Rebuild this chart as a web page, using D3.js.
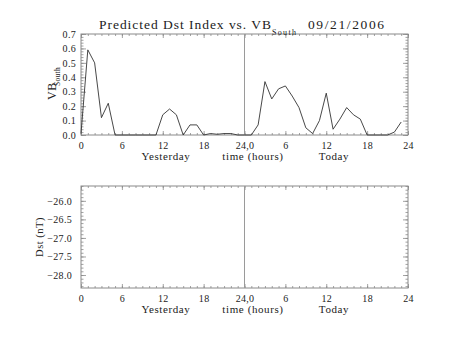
<!DOCTYPE html>
<html><head><meta charset="utf-8">
<script src="https://cdn.jsdelivr.net/npm/d3@7"></script>
<style>
body{margin:0;background:#fff;}
svg{display:block;}
text{font-family:"Liberation Serif","Times New Roman",serif;fill:#222;}
</style></head>
<body>
<svg id="c" width="453" height="340"></svg>
<script>
// ---- data ----
const hours = [0,1,2,3,4,5,6,7,8,9,10,11,12,13,14,15,16,17,18,19,20,21,22,23,
               24,25,26,27,28,29,30,31,32,33,34,35,36,37,38,39,40,41,42,43,44,45,46,47];
const vbSouth = [0.01,0.59,0.50,0.12,0.22,0.00,0.00,0.00,0.00,0.00,0.00,0.00,
                 0.14,0.18,0.14,0.00,0.07,0.07,0.00,0.01,0.005,0.01,0.01,0.00,
                 0.00,0.00,0.07,0.37,0.25,0.32,0.34,0.27,0.19,0.05,0.01,0.10,
                 0.29,0.04,0.11,0.19,0.14,0.11,0.00,0.00,0.00,0.00,0.02,0.09];
const xTickValues = [0,6,12,18,24,30,36,42,48];
const xTickLabels = ["0","6","12","18","24,0","6","12","18","24"];
const vbTicks = [0.0,0.1,0.2,0.3,0.4,0.5,0.6,0.7];
const dstTicks = [-26.0,-26.5,-27.0,-27.5,-28.0];
const titleMain = "Predicted Dst Index vs. VB";
const titleSub = "South";
const titleDate = "09/21/2006";
const dayLabels = ["Yesterday","time (hours)","Today"];

// ---- layout ----
const svg = d3.select("#c");
const L = 81, R = 408;
const frameColor = "#8a8a8a";
const FONT = "Liberation Serif";
const x = d3.scaleLinear().domain([0,48]).range([L,R]);
const yTop = d3.scaleLinear().domain([0,0.7]).range([135,34]);
const yBot = d3.scaleLinear().domain([-28.35,-25.6]).range([288,186]);

function frame(y, top, bottom, yMajor, yMinor, fmt, labelPad){
  const g = svg.append("g");
  g.append("g").attr("transform",`translate(${L},0)`)
    .call(d3.axisLeft(y).tickValues(yMajor).tickSize(-5).tickPadding(labelPad).tickFormat(fmt));
  g.append("g").attr("transform",`translate(${L},0)`)
    .call(d3.axisLeft(y).tickValues(yMinor).tickSize(-2.5).tickFormat(""));
  g.append("g").attr("transform",`translate(${R},0)`)
    .call(d3.axisRight(y).tickValues(yMajor).tickSize(-5).tickFormat(""));
  g.append("g").attr("transform",`translate(${R},0)`)
    .call(d3.axisRight(y).tickValues(yMinor).tickSize(-2.5).tickFormat(""));
  g.append("g").attr("transform",`translate(0,${bottom})`)
    .call(d3.axisBottom(x).tickValues(xTickValues).tickSize(-4).tickPadding(7)
      .tickFormat((d,i)=>xTickLabels[i]));
  g.append("g").attr("transform",`translate(0,${bottom})`)
    .call(d3.axisBottom(x).tickValues(d3.range(0,49,1)).tickSize(-2).tickFormat(""));
  g.append("g").attr("transform",`translate(0,${top})`)
    .call(d3.axisTop(x).tickValues(xTickValues).tickSize(-4).tickFormat(""));
  g.append("g").attr("transform",`translate(0,${top})`)
    .call(d3.axisTop(x).tickValues(d3.range(0,49,1)).tickSize(-2).tickFormat(""));
  g.selectAll(".domain").remove();
  g.selectAll(".tick line").attr("stroke",frameColor).attr("stroke-width",0.8);
  g.selectAll(".tick text").attr("font-family",FONT).attr("font-size",10)
    .attr("letter-spacing",0.3).attr("fill","#222");
  g.append("rect").attr("x",L).attr("y",top).attr("width",R-L).attr("height",bottom-top)
    .attr("fill","none").attr("stroke",frameColor).attr("stroke-width",1);
  g.append("line").attr("x1",x(24)).attr("x2",x(24)).attr("y1",top).attr("y2",bottom)
    .attr("stroke","#9a9a9a").attr("stroke-width",1);
  const ly = bottom + 25;
  const dx = [166,253,334];
  dayLabels.forEach((t,i)=>{
    g.append("text").attr("x",dx[i]).attr("y",ly).attr("text-anchor","middle")
      .attr("font-size",11).attr("letter-spacing",0.6).text(t);
  });
  return g;
}

// top panel
const vbMinor = d3.range(0,0.7001,0.02);
frame(yTop, 34, 135, vbTicks, vbMinor, d3.format(".1f"), 5);
const line = d3.line().x((d,i)=>x(hours[i])).y(d=>yTop(d));
svg.append("path").datum(vbSouth).attr("d",line).attr("fill","none")
  .attr("stroke","#333").attr("stroke-width",0.9);

// bottom panel
const dstMinor = d3.range(-28.3,-25.59,0.1);
frame(yBot, 186, 288, dstTicks, dstMinor, d=>"\u2212"+d3.format(".1f")(-d), 9);

// title
svg.append("text").attr("x",99).attr("y",28.5).attr("font-size",13.5)
  .attr("textLength",172).attr("lengthAdjust","spacing").text(titleMain);
svg.append("text").attr("x",272).attr("y",35).attr("font-size",8)
  .attr("textLength",24).attr("lengthAdjust","spacing").text(titleSub);
svg.append("text").attr("x",308).attr("y",28.5).attr("font-size",13.5)
  .attr("textLength",76).attr("lengthAdjust","spacing").text(titleDate);

// y labels
svg.append("text").attr("transform","translate(56,100) rotate(-90)").attr("font-size",12)
  .attr("letter-spacing",0.5).text("VB");
svg.append("text").attr("transform","translate(60,86) rotate(-90)").attr("font-size",7.5)
  .attr("letter-spacing",0.3).text("South");
svg.append("text").attr("transform","translate(43,237) rotate(-90)").attr("text-anchor","middle")
  .attr("font-size",10.5).attr("letter-spacing",0.5).text("Dst (nT)");
</script>
</body></html>
